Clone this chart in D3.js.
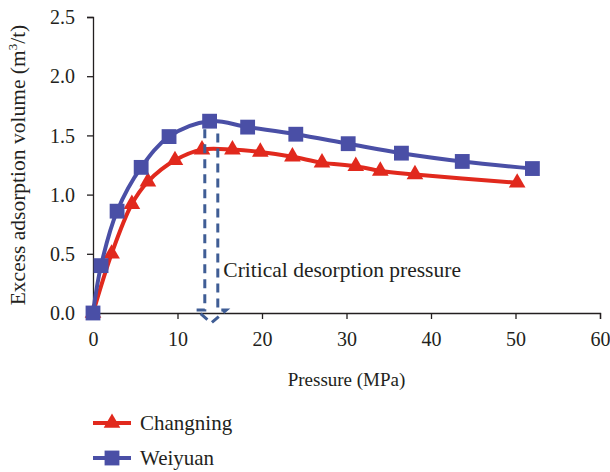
<!DOCTYPE html>
<html>
<head>
  <meta charset="utf-8">
  <style>
    html, body {
      margin: 0;
      padding: 0;
      background: #fff;
      width: 610px;
      height: 472px;
      overflow: hidden;
    }
    svg { display: block; }
    text {
      font-family: "Liberation Serif", "DejaVu Serif", serif;
      fill: #231f20;
    }
  </style>
</head>
<body>
  <svg width="610" height="472"></svg>

  <script src="https://d3js.org/d3.v7.min.js"></script>
  <script>
    // values
    const weiyuanP = [0, 0.95, 2.85, 5.7, 9.0, 13.8, 18.3, 24.0, 30.2, 36.5, 43.7, 52.0];
    const weiyuanV = [0, 0.40, 0.86, 1.23, 1.49, 1.62, 1.57, 1.51, 1.43, 1.35, 1.28, 1.22];
    const changningP = [0, 2.2, 4.6, 6.5, 9.7, 12.9, 16.5, 19.8, 23.6, 27.1, 31.1, 34.0, 38.1, 50.2];
    const changningV = [0, 0.50, 0.92, 1.11, 1.29, 1.38, 1.38, 1.36, 1.32, 1.27, 1.24, 1.20, 1.17, 1.10];
    const xTicks = [0, 10, 20, 30, 40, 50, 60];
    const yTicks = [0, 0.5, 1.0, 1.5, 2.0, 2.5];
    const criticalPressure = 14;
    const criticalLabel = "Critical desorption pressure";

    const red = "#e1291d";
    const blue = "#4a4fa6";
    const arrowColor = "#3f5d95";

    const svg = d3.select("svg");
    const x = d3.scaleLinear().domain([0, 60]).range([93, 600]);
    const y = d3.scaleLinear().domain([0, 2.5]).range([313, 17]);

    // axes
    const xAxis = svg.append("g")
      .attr("transform", `translate(0,${y(0)})`)
      .call(d3.axisBottom(x).tickValues(xTicks).tickSize(6).tickPadding(13).tickFormat(d3.format("d")));
    const yAxis = svg.append("g")
      .attr("transform", `translate(${x(0)},0)`)
      .call(d3.axisLeft(y).tickValues(yTicks).tickSize(6).tickPadding(12).tickFormat(d3.format(".1f")));
    [xAxis, yAxis].forEach(a => {
      a.selectAll("path, line").attr("stroke", "#231f20").attr("stroke-width", 1.3);
      a.selectAll("text").attr("font-size", 20)
        .style("font-family", '"Liberation Serif", serif').attr("fill", "#231f20");
    });
    yAxis.selectAll("text").attr("dy", "0.33em");

    // axis titles
    svg.append("text")
      .attr("x", (x(0) + x(60)) / 2).attr("y", 386)
      .attr("text-anchor", "middle").attr("font-size", 19)
      .text("Pressure (MPa)");

    const yt = svg.append("text")
      .attr("transform", `translate(25,${(y(0) + y(2.5)) / 2}) rotate(-90)`)
      .attr("text-anchor", "middle").attr("font-size", 21.5);
    yt.append("tspan").text("Excess adsorption volume (m");
    yt.append("tspan").attr("font-size", 13).attr("dy", -8).text("3");
    yt.append("tspan").attr("dy", 8).text("/t)");

    const line = d3.line()
      .x(d => x(d[0])).y(d => y(d[1]))
      .curve(d3.curveCatmullRom.alpha(0.5));

    const changning = changningP.map((p, i) => [p, changningV[i]]);
    const weiyuan = weiyuanP.map((p, i) => [p, weiyuanV[i]]);

    const tri = d3.symbol().type(d3.symbolTriangle).size(120);
    const sq = d3.symbol().type(d3.symbolSquare).size(220);

    // Changning
    svg.append("path").datum(changning)
      .attr("d", line).attr("fill", "none")
      .attr("stroke", red).attr("stroke-width", 4);
    svg.append("g").selectAll("path")
      .data(changning).join("path")
      .attr("d", tri)
      .attr("transform", d => `translate(${x(d[0])},${y(d[1])})`)
      .attr("fill", red);

    // Weiyuan
    svg.append("path").datum(weiyuan)
      .attr("d", line).attr("fill", "none")
      .attr("stroke", blue).attr("stroke-width", 4);
    svg.append("g").selectAll("path")
      .data(weiyuan).join("path")
      .attr("d", sq)
      .attr("transform", d => `translate(${x(d[0])},${y(d[1])})`)
      .attr("fill", blue);

    // dashed down arrow at the critical pressure
    const cx = x(criticalPressure);
    const arrowTop = y(d3.max(weiyuanV)) + 8;
    const headY = y(0) - 3;
    const tipY = y(0) + 10;
    const arrow = d3.path();
    arrow.moveTo(cx - 6.5, arrowTop);
    arrow.lineTo(cx - 6.5, headY);
    arrow.lineTo(cx - 15, headY);
    arrow.lineTo(cx, tipY);
    arrow.lineTo(cx + 15, headY);
    arrow.lineTo(cx + 6.5, headY);
    arrow.lineTo(cx + 6.5, arrowTop);
    svg.append("path")
      .attr("d", arrow.toString())
      .attr("fill", "none")
      .attr("stroke", arrowColor)
      .attr("stroke-width", 3)
      .attr("stroke-dasharray", "9,6");

    svg.append("text")
      .attr("x", cx + 12).attr("y", y(0.3))
      .attr("font-size", 21.5)
      .text(criticalLabel);

    // legend
    const legend = [
      { name: "Changning", color: red, shape: tri, ly: 423 },
      { name: "Weiyuan", color: blue, shape: sq, ly: 458 }
    ];
    const lg = svg.append("g").selectAll("g").data(legend).join("g")
      .attr("transform", d => `translate(93,${d.ly})`);
    lg.append("line").attr("x1", 0).attr("x2", 38)
      .attr("stroke", d => d.color).attr("stroke-width", 4);
    lg.append("path").attr("d", d => d.shape())
      .attr("transform", "translate(19,0)")
      .attr("fill", d => d.color);
    lg.append("text").attr("x", 47).attr("dy", "0.35em")
      .attr("font-size", 21).text(d => d.name);
  </script>
</body>
</html>
